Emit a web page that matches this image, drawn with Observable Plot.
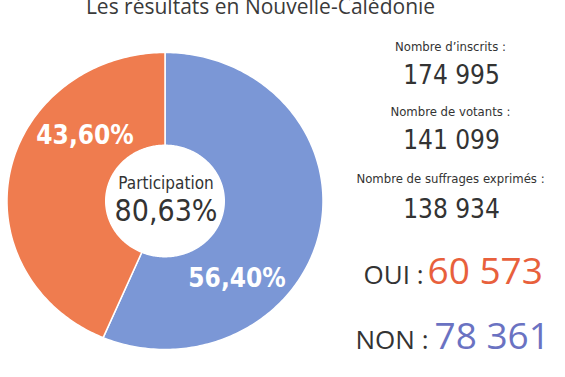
<!DOCTYPE html>
<html><head><meta charset="utf-8">
<script src="https://cdn.jsdelivr.net/npm/d3@7"></script>
<script src="https://cdn.jsdelivr.net/npm/@observablehq/plot@0.6"></script>
<style>
body{margin:0;background:#fff;}
#chart{width:565px;height:377px;overflow:hidden;}
</style></head><body><div id="chart"></div>
<script>
// ---- data ----
const title = "Les résultats en Nouvelle-Calédonie";
const choices = ["NON", "OUI"];
const shares = [56.40, 43.60];
const votes = [78361, 60573];
const participationLabel = "Participation";
const participation = 80.63;
const statLabels = ["Nombre d’inscrits :", "Nombre de votants :", "Nombre de suffrages exprimés :"];
const statValues = [174995, 141099, 138934];

// ---- layout / style ----
const W = 565, H = 377;
const sliceColors = ["#7b97d6", "#ef7c4f"];
const voteColors = ["#6a72c2", "#e8603c"];
const innerR = 0.375;
const labelPos = [[0.456, -0.582], [-0.506, 0.387]];
const condensed = "'DejaVu Sans Condensed', 'DejaVu Sans', sans-serif";
const open = "'Open Sans', sans-serif";
const dark = "#333333";

const fmtPct = v => v.toFixed(2).replace(".", ",") + "%";
const fmtInt = v => String(v).replace(/\B(?=(\d{3})+(?!\d))/g, " ");

// slice polygons built from the shares
const total = d3.sum(shares);
let acc = 0;
const pts = [];
choices.forEach((c, i) => {
  const a0 = acc / total * 2 * Math.PI; acc += shares[i];
  const a1 = acc / total * 2 * Math.PI;
  const n = Math.max(8, Math.ceil((a1 - a0) / (Math.PI / 180)));
  const ring = [];
  for (let k = 0; k <= n; k++) { const a = a0 + (a1 - a0) * k / n; ring.push({choice: c, x: Math.sin(a), y: Math.cos(a)}); }
  for (let k = n; k >= 0; k--) { const a = a0 + (a1 - a0) * k / n; ring.push({choice: c, x: innerR * Math.sin(a), y: innerR * Math.cos(a)}); }
  ring.push({...ring[0]});
  pts.push(...ring);
});

const txt = (s, o) => Plot.text([s], {frameAnchor: "top-left", lineAnchor: "bottom", textAnchor: "middle", text: d => d, ...o});

const statBaselines = [[50, 83], [115, 148], [182, 217]];
const statMarks = statLabels.flatMap((l, i) => [
  txt(l, {dx: 450, dy: statBaselines[i][0], fontFamily: condensed, fontSize: 13, fill: dark}),
  txt(fmtInt(statValues[i]), {dx: 451, dy: statBaselines[i][1], fontFamily: condensed, fontSize: 26, fill: dark})
]);

const voteRows = [{end: 428, start: 434, base: 348}, {end: 423, start: 427, base: 283}];
const voteMarks = choices.flatMap((c, i) => [
  txt(c + " :", {dx: voteRows[i].end, dy: voteRows[i].base, textAnchor: "end", fontFamily: open, fontSize: 26, fill: dark}),
  txt(fmtInt(votes[i]), {dx: voteRows[i].start, dy: voteRows[i].base, textAnchor: "start", fontFamily: open, fontSize: 37, fill: voteColors[i]})
]);

const chart = Plot.plot({
  width: W, height: H,
  margin: 0,
  x: {domain: [-1, 1], range: [6.5, 322.5], axis: null},
  y: {domain: [-1, 1], range: [349, 52], axis: null},
  color: {domain: choices, range: sliceColors},
  style: {background: "#fff"},
  marks: [
    Plot.line(pts, {x: "x", y: "y", z: "choice", fill: "choice", stroke: "white", strokeWidth: 1.5, curve: "linear"}),
    Plot.text(choices, {x: (d, i) => labelPos[i][0], y: (d, i) => labelPos[i][1], text: (d, i) => fmtPct(shares[i]),
      fill: "white", fontWeight: "bold", fontSize: 26, fontFamily: condensed, lineAnchor: "bottom"}),
    Plot.text([participationLabel], {x: () => 0, y: () => 0, dx: 1, dy: -12.5, text: d => d, fontFamily: condensed, fontSize: 17, fill: dark, lineAnchor: "bottom"}),
    Plot.text([participation], {x: () => 0, y: () => 0, dx: 1, dy: 19.5, text: d => fmtPct(d), fontFamily: condensed, fontSize: 30, fill: dark, lineAnchor: "bottom"}),
    txt(title, {dx: 260, dy: 13, fontFamily: open, fontSize: 21, fill: "#3a3a3a"}),
    ...statMarks,
    ...voteMarks
  ]
});
document.getElementById("chart").append(chart);
</script></body></html>
